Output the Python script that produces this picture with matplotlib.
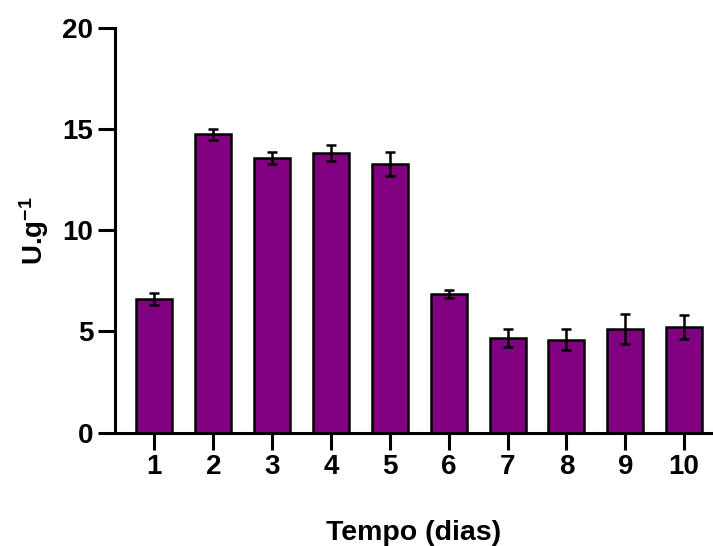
import matplotlib
matplotlib.use("Agg")
import matplotlib.pyplot as plt

days = [1, 2, 3, 4, 5, 6, 7, 8, 9, 10]
values = [6.60, 14.73, 13.55, 13.80, 13.27, 6.85, 4.68, 4.60, 5.13, 5.22]
errors = [0.28, 0.27, 0.30, 0.40, 0.61, 0.22, 0.43, 0.54, 0.75, 0.57]
yticks = [0, 5, 10, 15, 20]

plt.rcParams['font.family'] = ['Liberation Sans', 'DejaVu Sans']
plt.rcParams['font.weight'] = 'bold'
plt.rcParams['mathtext.fontset'] = 'custom'
plt.rcParams['mathtext.rm'] = 'Liberation Sans:bold'
plt.rcParams['mathtext.bf'] = 'Liberation Sans:bold'
plt.rcParams['mathtext.default'] = 'bf'

fig = plt.figure(figsize=(7.13, 5.46), dpi=100)
ax = fig.add_axes([115/713, 1-432.7/546, 1-115/713, (432.7-27.7)/546])

ax.bar(days, values, width=0.61, color='#800080', edgecolor='black', linewidth=1.8,
       yerr=errors, capsize=3.8, error_kw=dict(elinewidth=1.8, capthick=1.8, ecolor='black'),
       zorder=2)

ax.set_xlim(0.33, 10.49)
ax.set_ylim(0, 20)
ax.set_yticks(yticks)
ax.set_xticks(days)
ax.set_xticklabels([str(d) for d in days])

for s in ['top', 'right']:
    ax.spines[s].set_visible(False)
for s in ['left', 'bottom']:
    ax.spines[s].set_linewidth(2.2)

ax.tick_params(axis='both', length=12, width=2.2, labelsize=20)
ax.tick_params(axis='y', pad=3.5)
ax.tick_params(axis='x', pad=3)
for lab in ax.get_xticklabels() + ax.get_yticklabels():
    lab.set_fontweight('bold')

xl = ax.set_xlabel('Tempo (dias)', fontsize=20.5, fontweight='bold')
xl.set_verticalalignment('baseline')
ax.xaxis.set_label_coords(0.5, -(539.7 - 432.7) / 405)
yl = ax.set_ylabel('U.g$^{-1}$', fontsize=20, fontweight='bold')
yl.set_verticalalignment('baseline')
ax.yaxis.set_label_coords(-(115 - 43) / 598, 0.5)

fig.savefig('out.png', dpi=100)
